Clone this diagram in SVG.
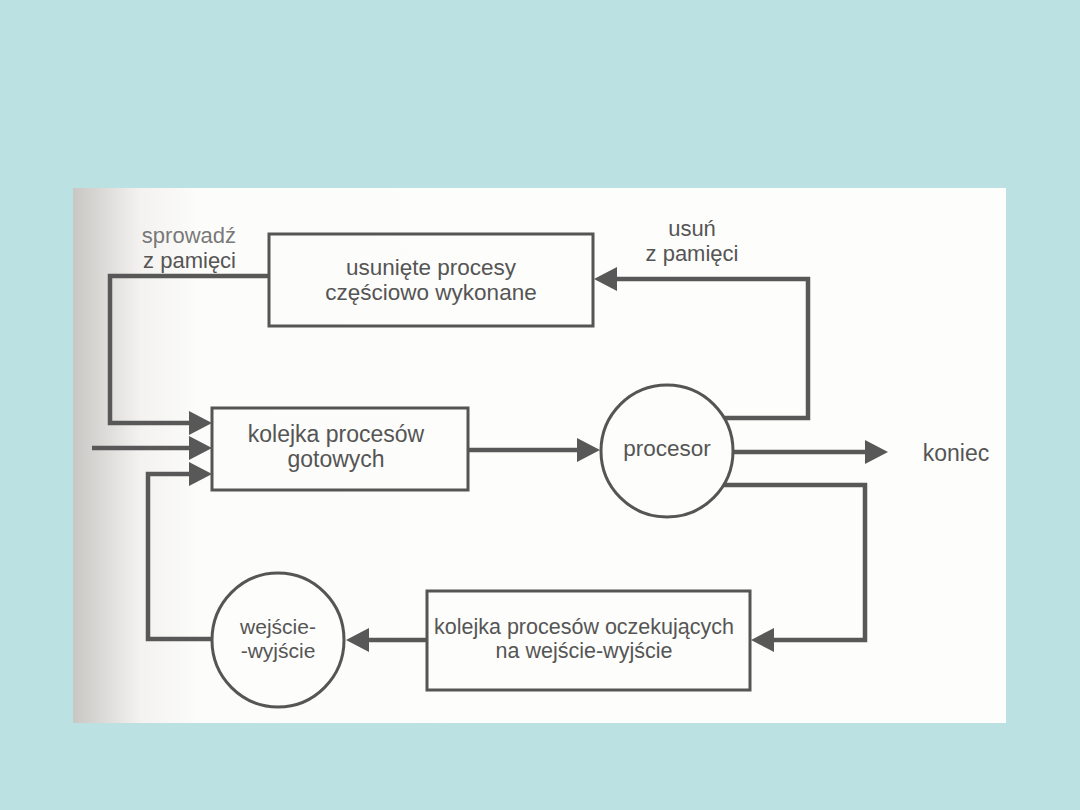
<svg xmlns="http://www.w3.org/2000/svg" width="1080" height="810" viewBox="0 0 1080 810">
  <style>
    .box { fill: none; stroke: #555; stroke-width: 3; }
    .node { fill: #fdfdfb; stroke: #555; stroke-width: 3; }
    .conn { fill: none; stroke: #585858; stroke-width: 4.5; stroke-linejoin: miter; }
    .lbl { font-family: "Liberation Sans", Arial, sans-serif; font-size: 22.5px; fill: #555; text-anchor: middle; }
  </style>
  <defs>
    <marker id="arr" markerUnits="userSpaceOnUse" markerWidth="24" markerHeight="26" refX="13" refY="12" orient="auto">
      <path d="M0,0 L23,12 L0,24 Z" fill="#585858"/>
    </marker>
    <linearGradient id="shade" x1="0" y1="0" x2="1" y2="0">
      <stop offset="0" stop-color="#c9c7c4"/>
      <stop offset="0.06" stop-color="#d9d7d4"/>
      <stop offset="0.16" stop-color="#f3f2f0"/>
      <stop offset="0.3" stop-color="#fcfcfa"/>
      <stop offset="1" stop-color="#fdfdfb"/>
    </linearGradient>
  </defs>
  <rect x="0" y="0" width="1080" height="810" fill="#bce1e3"/>
  <rect x="73" y="188" width="933" height="535" fill="#fdfdfb"/>
  <rect x="73" y="188" width="420" height="535" fill="url(#shade)"/>

  <g id="connectors">
    <path class="conn" d="M724,418 H808 V279 H604" marker-end="url(#arr)"/>
    <path class="conn" d="M269,276 H110 V423 H202" marker-end="url(#arr)"/>
    <path class="conn" d="M92,448 H202" marker-end="url(#arr)"/>
    <path class="conn" d="M212,639 H148 V474 H202" marker-end="url(#arr)"/>
    <path class="conn" d="M468,450 H590" marker-end="url(#arr)"/>
    <path class="conn" d="M733,452 H878" marker-end="url(#arr)"/>
    <path class="conn" d="M724,485 H865 V640 H761" marker-end="url(#arr)"/>
    <path class="conn" d="M427,640 H356" marker-end="url(#arr)"/>
  </g>

  <g id="label-sprowadz">
    <text class="lbl" x="236" y="243" style="text-anchor:end;font-size:22px" fill-opacity="0.8">sprowadź</text>
    <text class="lbl" x="236" y="268" style="text-anchor:end;font-size:22px">z pamięci</text>
  </g>
  <g id="label-usun">
    <text class="lbl" x="692" y="236" style="font-size:22px">usuń</text>
    <text class="lbl" x="692" y="261" style="font-size:22px">z pamięci</text>
  </g>

  <g id="node-usuniete">
    <rect class="box" x="269" y="234" width="324" height="92"/>
    <text class="lbl" x="431" y="275">usunięte procesy</text>
    <text class="lbl" x="431" y="300">częściowo wykonane</text>
  </g>

  <g id="node-gotowe">
    <rect class="box" x="212" y="408" width="256" height="82"/>
    <text class="lbl" x="336" y="442" style="font-size:23px">kolejka procesów</text>
    <text class="lbl" x="336" y="467" style="font-size:23px">gotowych</text>
  </g>

  <g id="node-procesor">
    <circle class="node" cx="667" cy="451" r="66"/>
    <text class="lbl" x="667" y="456">procesor</text>
  </g>

  <g id="node-koniec">
    <text class="lbl" x="956" y="461" style="font-size:23px">koniec</text>
  </g>

  <g id="node-oczekujace">
    <rect class="box" x="427" y="591" width="323" height="99"/>
    <text class="lbl" x="584" y="634" style="font-size:21.5px">kolejka procesów oczekujących</text>
    <text class="lbl" x="584" y="658" style="font-size:21.5px">na wejście-wyjście</text>
  </g>

  <g id="node-we-wy">
    <ellipse class="node" cx="278" cy="640" rx="66" ry="67"/>
    <text class="lbl" x="278" y="634" style="font-size:21px">wejście-</text>
    <text class="lbl" x="278" y="658" style="font-size:21px">-wyjście</text>
  </g>
</svg>
